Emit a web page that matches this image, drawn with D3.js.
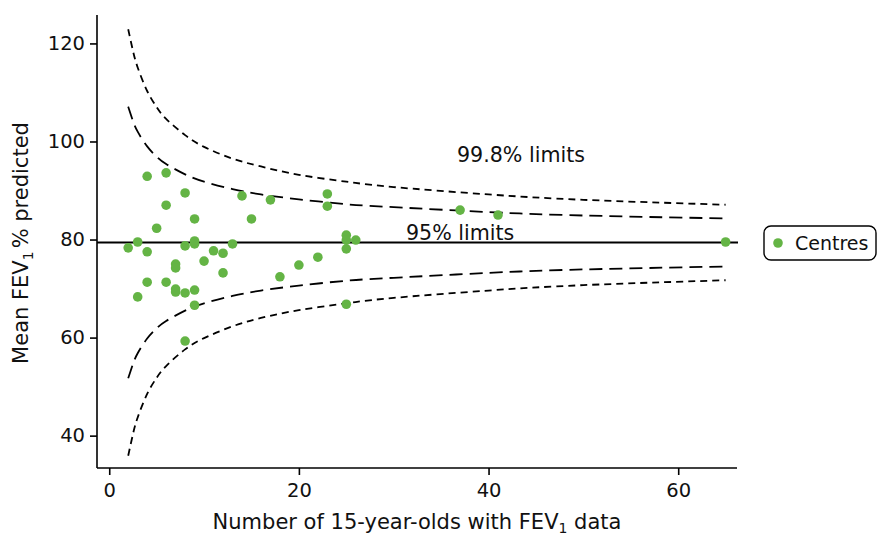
<!DOCTYPE html>
<html>
<head>
<meta charset="utf-8">
<script src="https://cdn.jsdelivr.net/npm/d3@7"></script>
<style>
  html, body { margin: 0; padding: 0; background: #fff; }
  svg { display: block; font-family: "DejaVu Sans", sans-serif; }
</style>
</head>
<body>
<svg id="chart" width="880" height="538"></svg>
<script>
// Centres: number of 15-year-olds with FEV1 data, and mean FEV1 % predicted
const centreN = [2, 3, 3, 4, 4, 4, 5, 6, 6, 6, 7, 7, 7, 7, 8, 8, 8, 8, 9, 9, 9, 9, 9,
  10, 11, 12, 12, 13, 14, 15, 17, 18, 20, 22, 23, 23, 25, 25, 25, 25, 26, 37, 41, 65];
const centreFev = [78.3, 79.5, 68.3, 92.9, 77.5, 71.3, 82.3, 93.6, 87.0, 71.3, 75.0, 74.2, 69.9, 69.3,
  89.5, 78.7, 69.1, 59.3, 84.2, 79.7, 79.1, 69.7, 66.6,
  75.6, 77.7, 77.2, 73.2, 79.1, 88.9, 84.2, 88.1, 72.4, 74.8, 76.4, 89.3, 86.8,
  80.9, 79.9, 78.1, 66.8, 79.9, 86.0, 85.0, 79.5];

// Overall mean
const overallMean = 79.4;

// Funnel control limits, tabulated against centre size
const limitN =        [2,     2.5,   3,     4,     5,     6,     8,     10,    13,    16,    20,    25,    30,    40,    50,    65];
const upper998 =      [122.9, 118.5, 115.1, 110.3, 107.0, 104.6, 101.3, 98.9,  96.5,  94.9,  93.2,  91.8,  90.7,  89.2,  88.1,  87.1];
const upper95 =       [107.1, 104.2, 102.0, 99.0,  96.9,  95.4,  93.3,  91.8,  90.3,  89.2,  88.2,  87.2,  86.6,  85.6,  84.9,  84.3];
const lower95 =       [51.7,  54.6,  56.8,  59.8,  61.9,  63.4,  65.5,  67.0,  68.5,  69.6,  70.6,  71.6,  72.2,  73.2,  73.9,  74.5];
const lower998 =      [35.9,  40.3,  43.7,  48.5,  51.8,  54.2,  57.6,  59.9,  62.3,  64.0,  65.6,  67.0,  68.1,  69.6,  70.7,  71.7];

const xTicks = [0, 20, 40, 60];
const yTicks = [40, 60, 80, 100, 120];

const svg = d3.select("#chart");
const plotLeft = 97, plotRight = 737, plotTop = 15, plotBottom = 468;

const x = d3.scaleLinear().domain([-1.29, 66.2]).range([plotLeft, plotRight]);
const y = d3.scaleLinear().domain([33.4, 125.8]).range([plotBottom, plotTop]);

const green = "#64b445";

// Axes
const xAxis = svg.append("g")
  .attr("transform", `translate(0,${plotBottom})`)
  .call(d3.axisBottom(x).tickValues(xTicks).tickSize(7).tickPadding(8).tickSizeOuter(0));
const yAxis = svg.append("g")
  .attr("transform", `translate(${plotLeft},0)`)
  .call(d3.axisLeft(y).tickValues(yTicks).tickSize(7).tickPadding(5).tickSizeOuter(0));

[xAxis, yAxis].forEach(g => {
  g.select(".domain").attr("stroke", "#000").attr("stroke-width", 1.6);
  g.selectAll(".tick line").attr("stroke", "#000").attr("stroke-width", 1.6);
  g.selectAll(".tick text").attr("fill", "#111").style("font-size", "19.5px")
    .style("font-family", "'DejaVu Sans', sans-serif");
});
// extend spines to meet at the corner
xAxis.select(".domain").attr("d", `M${plotLeft},0H${plotRight}`);
yAxis.select(".domain").attr("d", `M0,${plotTop}V${plotBottom}`);

// Mean line
svg.append("line")
  .attr("x1", plotLeft).attr("x2", plotRight + 1)
  .attr("y1", y(overallMean)).attr("y2", y(overallMean))
  .attr("stroke", "#000").attr("stroke-width", 1.8);

// Funnel limits
const line = d3.line().curve(d3.curveNatural)
  .x(d => x(d[0])).y(d => y(d[1]));
const limits = [
  { vals: upper998, dash: "7,5" },
  { vals: upper95, dash: "13,7" },
  { vals: lower95, dash: "13,7" },
  { vals: lower998, dash: "7,5" }
];
svg.append("g").selectAll("path").data(limits).join("path")
  .attr("d", d => line(limitN.map((n, i) => [n, d.vals[i]])))
  .attr("fill", "none").attr("stroke", "#000")
  .attr("stroke-width", 1.8).attr("stroke-dasharray", d => d.dash);

// Centre points
svg.append("g").selectAll("circle").data(centreN.map((n, i) => [n, centreFev[i]])).join("circle")
  .attr("cx", d => x(d[0])).attr("cy", d => y(d[1]))
  .attr("r", 4.8).attr("fill", green);

// Limit labels
svg.append("text").attr("x", 457).attr("y", 162).style("font-size", "20.6px")
  .attr("fill", "#111").text("99.8% limits");
svg.append("text").attr("x", 406).attr("y", 240).style("font-size", "20.6px")
  .attr("fill", "#111").text("95% limits");

// Axis titles
const xTitle = svg.append("text").attr("x", 417).attr("y", 529)
  .attr("text-anchor", "middle").style("font-size", "21px").attr("fill", "#111");
xTitle.append("tspan").text("Number of 15-year-olds with FEV");
xTitle.append("tspan").attr("dy", 4).style("font-size", "14px").text("1");
xTitle.append("tspan").attr("dy", -4).text(" data");

const yTitle = svg.append("text")
  .attr("transform", "translate(28,243) rotate(-90)")
  .attr("text-anchor", "middle").style("font-size", "21px").attr("fill", "#111");
yTitle.append("tspan").text("Mean FEV");
yTitle.append("tspan").attr("dy", 5).style("font-size", "14px").text("1");
yTitle.append("tspan").attr("dy", -5).attr("dx", 3).text("% predicted");

// Legend
const legend = svg.append("g").attr("transform", "translate(764,226)");
legend.append("rect").attr("width", 112).attr("height", 34).attr("rx", 7)
  .attr("fill", "#fff").attr("stroke", "#000").attr("stroke-width", 1.4);
legend.append("circle").attr("cx", 14).attr("cy", 17).attr("r", 4.8).attr("fill", green);
legend.append("text").attr("x", 31).attr("y", 24).style("font-size", "19px")
  .attr("fill", "#111").text("Centres");
</script>
</body>
</html>
